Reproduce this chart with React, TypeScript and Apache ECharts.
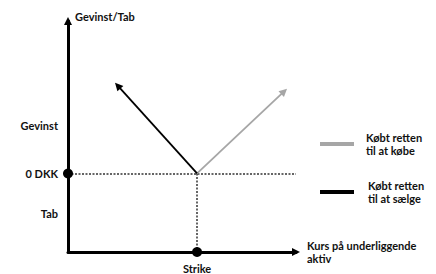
import React, { useEffect, useRef } from "react";
import * as echarts from "echarts";

// Domain: x = kurs (0..100), y = gevinst/tab (0..100)
const xRange = [0, 100];
const yRange = [0, 100];
const strike = 56.6;
const zeroLevel = 34;
const yTickValues = [16.8, 34, 54.7];
const yTickLabels = ["Tab", "0 DKK", "Gevinst"];
const xTickValues = [56.6];
const xTickLabels = ["Strike"];
const callName = "Købt retten\ntil at købe";
const putName = "Købt retten\ntil at sælge";
const callLine = [[56.6, 34], [94.8, 69.5]];
const putLine = [[56.6, 34], [21.8, 72]];
const zeroGuide = [[0, 34], [100, 34]];
const strikeGuide = [[56.6, 34], [56.6, 0]];
const dots = [[0, 34], [56.6, 0]];

const FONT = "Lato, 'Open Sans', sans-serif";

export default function App() {
  const ref = useRef<HTMLDivElement>(null);
  useEffect(() => {
    const chart = echarts.init(ref.current!, null, { renderer: "svg" });
    const txt = { fontFamily: FONT, fontWeight: "bold", fontSize: 11, color: "#111" };
    chart.setOption({
      animation: false,
      backgroundColor: "#fff",
      grid: { left: 68, right: 140, top: 21, bottom: 21, containLabel: false },
      xAxis: {
        type: "value",
        min: xRange[0],
        max: xRange[1],
        name: "Kurs på underliggende\naktiv",
        nameLocation: "end",
        nameGap: 11,
        nameTextStyle: { ...txt, align: "left", verticalAlign: "middle", lineHeight: 13 },
        axisLine: { show: true, onZero: false, symbol: ["none", "triangle"], symbolSize: [8, 8], lineStyle: { color: "#000", width: 3 } },
        axisTick: { show: false },
        splitLine: { show: false },
        axisLabel: {
          ...txt,
          margin: 11,
          customValues: xTickValues,
          formatter: (v: number) => xTickLabels[xTickValues.indexOf(v)] ?? "",
        },
      },
      yAxis: {
        type: "value",
        min: yRange[0],
        max: yRange[1],
        name: "Gevinst/Tab",
        nameLocation: "end",
        nameGap: 5,
        nameTextStyle: { ...txt, align: "left", verticalAlign: "middle", padding: [0, 0, 0, 7] },
        axisLine: { show: true, onZero: false, symbol: ["none", "triangle"], symbolSize: [8, 8], lineStyle: { color: "#000", width: 3 } },
        axisTick: { show: false },
        splitLine: { show: false },
        axisLabel: {
          ...txt,
          margin: 10,
          customValues: yTickValues,
          formatter: (v: number) => yTickLabels[yTickValues.indexOf(v)] ?? "",
        },
      },
      legend: {
        orient: "vertical",
        left: 315,
        top: 126,
        itemGap: 22,
        itemWidth: 32,
        itemHeight: 2,
        selectedMode: false,
        textStyle: { ...txt, lineHeight: 13, padding: [0, 0, 0, 8] },
        data: [
          { name: callName, icon: "rect", itemStyle: { color: "#a6a6a6" } },
          { name: putName, icon: "rect", itemStyle: { color: "#000" }, textStyle: { ...txt, lineHeight: 13, padding: [0, 0, 0, 10] } },
        ],
      },
      series: [
        {
          name: "guides",
          type: "lines",
          coordinateSystem: "cartesian2d",
          symbol: ["none", "none"],
          lineStyle: { color: "#333", width: 1.5, type: [2, 1.5], opacity: 1 },
          data: [{ coords: zeroGuide }, { coords: strikeGuide }],
          z: 1,
        },
        {
          name: callName,
          type: "lines",
          coordinateSystem: "cartesian2d",
          symbol: ["none", "triangle"],
          symbolSize: [7, 8],
          lineStyle: { color: "#a6a6a6", width: 1.8, opacity: 1 },
          itemStyle: { color: "#a6a6a6" },
          data: [{ coords: callLine }],
          z: 3,
        },
        {
          name: putName,
          type: "lines",
          coordinateSystem: "cartesian2d",
          symbol: ["none", "triangle"],
          symbolSize: [7, 8],
          lineStyle: { color: "#000", width: 1.8, opacity: 1 },
          itemStyle: { color: "#000" },
          data: [{ coords: putLine }],
          z: 3,
        },
        {
          name: "dots",
          type: "scatter",
          symbolSize: 10,
          clip: false,
          itemStyle: { color: "#000", opacity: 1 },
          data: dots,
          z: 5,
        },
      ],
    });
    return () => chart.dispose();
  }, []);
  return <div ref={ref} style={{ width: 436, height: 274, position: "absolute", left: 0, top: 0 }} />;
}
